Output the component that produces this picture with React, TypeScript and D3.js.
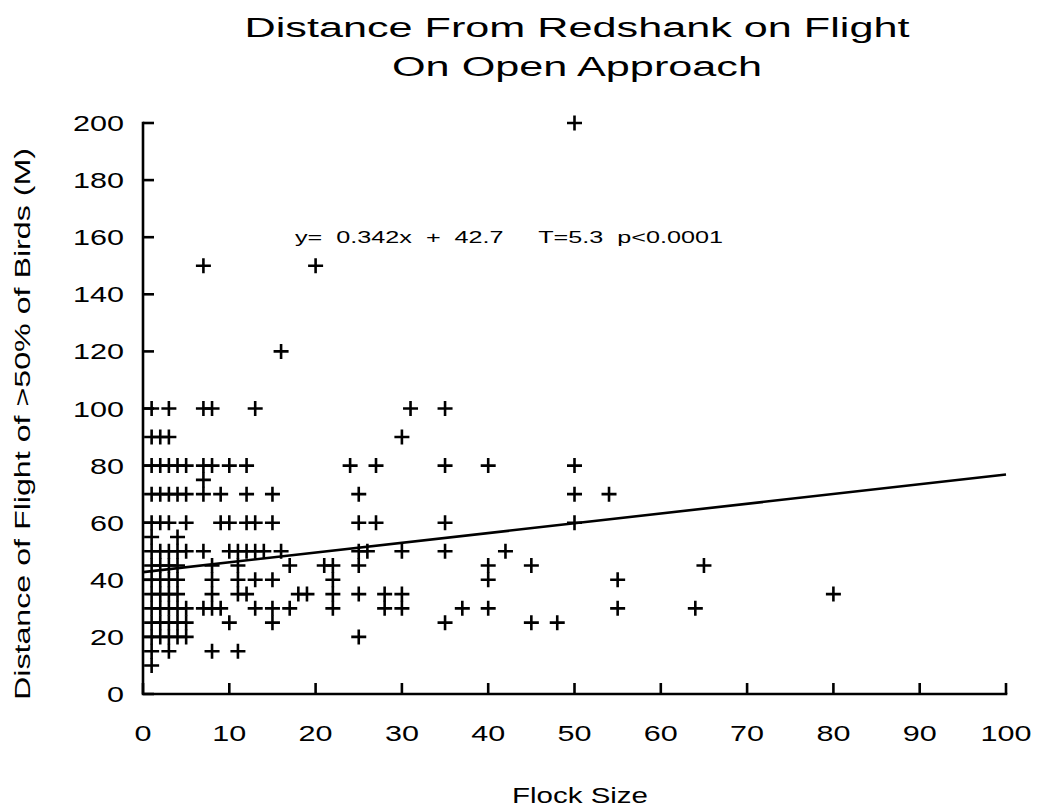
import React from "react";
import * as d3 from "d3";

const title1 = "Distance From Redshank on Flight";
const title2 = "On Open Approach";
const xLabel = "Flock Size";
const yLabel = "Distance of Flight of >50% of Birds (M)";
const equation = "y=  0.342x  +  42.7     T=5.3  p<0.0001";

const xTicks = [0, 10, 20, 30, 40, 50, 60, 70, 80, 90, 100];
const yTicks = [0, 20, 40, 60, 80, 100, 120, 140, 160, 180, 200];

const slope = 0.342;
const intercept = 42.7;

// Observations grouped by flight distance (M): [distance, flock sizes]
const rows: [number, number[]][] = [
  [200, [50]],
  [150, [7, 20]],
  [120, [16]],
  [100, [1, 3, 7, 8, 13, 31, 35]],
  [90, [1, 2, 3, 30]],
  [80, [1, 2, 3, 4, 5, 7, 8, 10, 12, 24, 27, 35, 40, 50]],
  [75, [7]],
  [70, [1, 2, 3, 4, 5, 7, 9, 12, 15, 25, 50, 54]],
  [60, [1, 2, 3, 5, 9, 10, 12, 13, 15, 25, 27, 35, 50]],
  [55, [1, 4]],
  [50, [1, 2, 3, 4, 5, 7, 10, 11, 12, 13, 14, 16, 25, 26, 30, 35, 42]],
  [45, [1, 2, 3, 4, 8, 11, 17, 21, 22, 25, 40, 45, 65]],
  [40, [1, 2, 3, 4, 8, 11, 13, 15, 22, 40, 55]],
  [35, [1, 2, 3, 4, 8, 11, 12, 18, 19, 22, 25, 28, 30, 80]],
  [30, [1, 2, 3, 4, 5, 7, 8, 9, 13, 15, 17, 22, 28, 30, 37, 40, 55, 64]],
  [25, [1, 2, 3, 4, 5, 10, 15, 35, 45, 48]],
  [20, [1, 2, 3, 4, 5, 25]],
  [15, [1, 3, 8, 11]],
  [10, [1]],
];

const points: { x: number; y: number }[] = rows.flatMap(([y, xs]) =>
  xs.map((x) => ({ x, y }))
);

export default function App() {
  const x = d3.scaleLinear().domain([0, 100]).range([143, 1006]);
  const y = d3.scaleLinear().domain([0, 200]).range([694, 123]);
  const font = "'Liberation Sans', Arial, Helvetica, sans-serif";
  const sw = 2.6;
  const h = 7.5;
  const line = d3
    .line<number>()
    .x((d) => x(d))
    .y((d) => y(slope * d + intercept));

  return (
    <svg
      width={1042}
      height={812}
      style={{ position: "absolute", left: 0, top: 0, background: "#fff" }}
    >
      <rect x={0} y={0} width={1042} height={812} fill="#fff" />
      <g fontFamily={font} fill="#000">
        <text x={577} y={37} fontSize={27} textAnchor="middle" textLength={665} lengthAdjust="spacingAndGlyphs">
          {title1}
        </text>
        <text x={577} y={76} fontSize={27} textAnchor="middle" textLength={370} lengthAdjust="spacingAndGlyphs">
          {title2}
        </text>
        <text x={580} y={803} fontSize={22} textAnchor="middle" textLength={136} lengthAdjust="spacingAndGlyphs">
          {xLabel}
        </text>
        <text
          transform={`translate(30,${424}) rotate(-90)`}
          fontSize={22}
          textAnchor="middle"
          textLength={552}
          lengthAdjust="spacingAndGlyphs"
        >
          {yLabel}
        </text>
        <text
          x={295}
          y={243}
          fontSize={17}
          textLength={428}
          lengthAdjust="spacingAndGlyphs"
          style={{ whiteSpace: "pre" }}
          xmlSpace="preserve"
        >
          {equation}
        </text>
        {yTicks.map((t) => (
          <text
            key={"yl" + t}
            x={124}
            y={y(t) + 8}
            fontSize={22}
            textAnchor="end"
            textLength={String(t).length * 17}
            lengthAdjust="spacingAndGlyphs"
          >
            {t}
          </text>
        ))}
        {xTicks.map((t) => (
          <text
            key={"xl" + t}
            x={x(t)}
            y={741}
            fontSize={22}
            textAnchor="middle"
            textLength={String(t).length * 17}
            lengthAdjust="spacingAndGlyphs"
          >
            {t}
          </text>
        ))}
      </g>
      <g stroke="#000" strokeWidth={sw} fill="none">
        <path d={`M${x(0)},${y(200)}V${y(0)}H${x(100)}`} strokeLinecap="square" />
        {yTicks.map((t) => (
          <line key={"yt" + t} x1={x(0)} x2={x(0) + 11} y1={y(t)} y2={y(t)} />
        ))}
        {xTicks.map((t) => (
          <line key={"xt" + t} x1={x(t)} x2={x(t)} y1={y(0)} y2={y(0) - 11} />
        ))}
        <path d={line([0, 100]) || ""} />
        {points.map((p, i) => (
          <path
            key={"p" + i}
            d={`M${x(p.x) - h},${y(p.y)}H${x(p.x) + h}M${x(p.x)},${y(p.y) - h}V${y(p.y) + h}`}
          />
        ))}
      </g>
    </svg>
  );
}
